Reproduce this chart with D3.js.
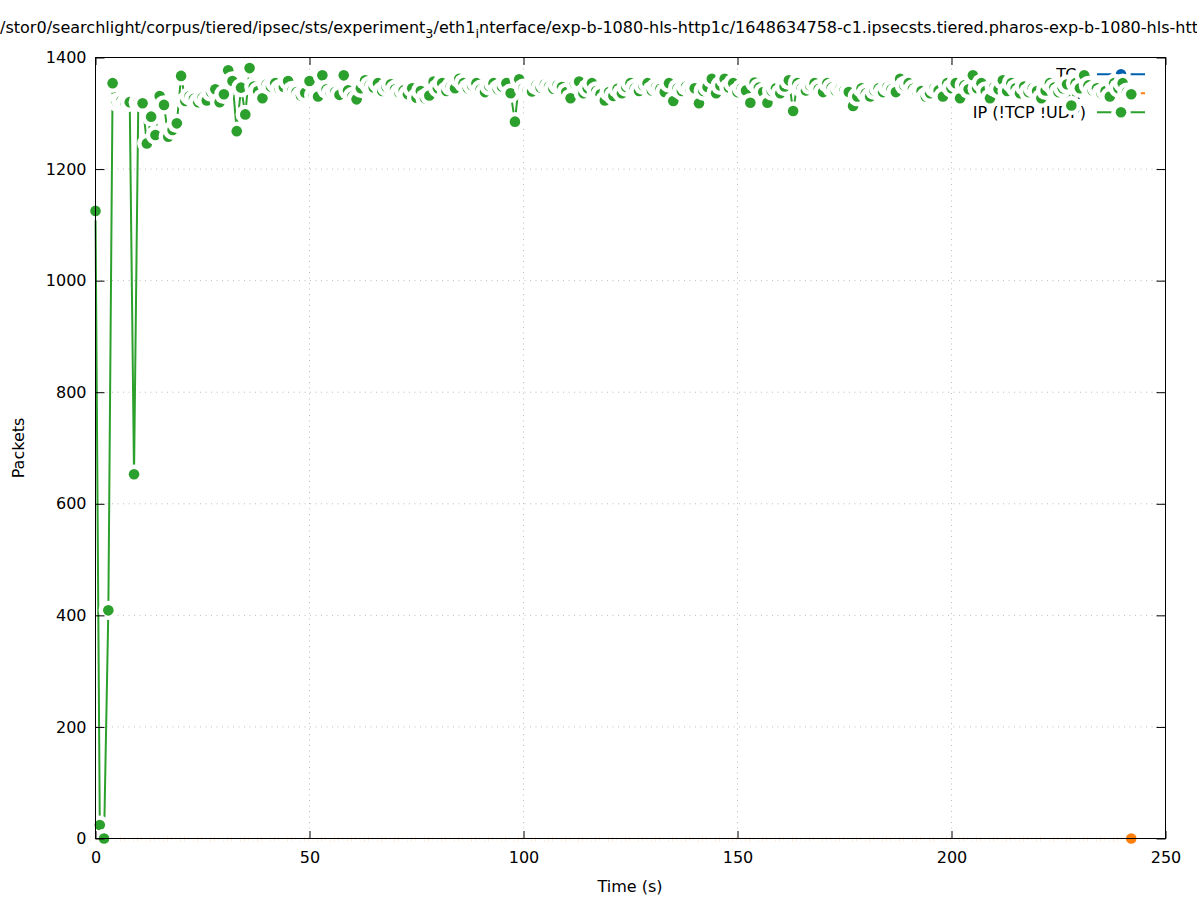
<!DOCTYPE html>
<html lang="en">
<head>
<meta charset="utf-8">
<title>Packets over time</title>
<style>
  body { margin: 0; background: #fff; }
  svg { display: block; font-family: "DejaVu Sans", sans-serif; }
  .tick line { stroke: #000; stroke-width: 1; }
  .tick text { font-size: 16px; fill: #000; font-family: "DejaVu Sans", sans-serif; }
  .grid line { stroke: #bcbcbc; stroke-width: 1; stroke-dasharray: 1,4.5; }
</style>
</head>
<body>
<svg width="1197" height="900"></svg>
<script src="https://cdn.jsdelivr.net/npm/d3@7"></script>
<script>

// ---- data (one bin per second) ----
const seconds = d3.range(0, 243)

const tcp = [
  0,0,0,0,0,0,0,0,0,0, 0,0,0,0,0,0,0,0,0,0, 0,0,0,0,0,0,0,0,0,0,
  0,0,0,0,0,0,0,0,0,0, 0,0,0,0,0,0,0,0,0,0, 0,0,0,0,0,0,0,0,0,0,
  0,0,0,0,0,0,0,0,0,0, 0,0,0,0,0,0,0,0,0,0, 0,0,0,0,0,0,0,0,0,0,
  0,0,0,0,0,0,0,0,0,0, 0,0,0,0,0,0,0,0,0,0, 0,0,0,0,0,0,0,0,0,0,
  0,0,0,0,0,0,0,0,0,0, 0,0,0,0,0,0,0,0,0,0, 0,0,0,0,0,0,0,0,0,0,
  0,0,0,0,0,0,0,0,0,0, 0,0,0,0,0,0,0,0,0,0, 0,0,0,0,0,0,0,0,0,0,
  0,0,0,0,0,0,0,0,0,0, 0,0,0,0,0,0,0,0,0,0, 0,0,0,0,0,0,0,0,0,0,
  0,0,0,0,0,0,0,0,0,0, 0,0,0,0,0,0,0,0,0,0, 0,0,0,0,0,0,0,0,0,0,
  0,0,0
]

const udp = [
  0,0,0,0,0,0,0,0,0,0, 0,0,0,0,0,0,0,0,0,0, 0,0,0,0,0,0,0,0,0,0,
  0,0,0,0,0,0,0,0,0,0, 0,0,0,0,0,0,0,0,0,0, 0,0,0,0,0,0,0,0,0,0,
  0,0,0,0,0,0,0,0,0,0, 0,0,0,0,0,0,0,0,0,0, 0,0,0,0,0,0,0,0,0,0,
  0,0,0,0,0,0,0,0,0,0, 0,0,0,0,0,0,0,0,0,0, 0,0,0,0,0,0,0,0,0,0,
  0,0,0,0,0,0,0,0,0,0, 0,0,0,0,0,0,0,0,0,0, 0,0,0,0,0,0,0,0,0,0,
  0,0,0,0,0,0,0,0,0,0, 0,0,0,0,0,0,0,0,0,0, 0,0,0,0,0,0,0,0,0,0,
  0,0,0,0,0,0,0,0,0,0, 0,0,0,0,0,0,0,0,0,0, 0,0,0,0,0,0,0,0,0,0,
  0,0,0,0,0,0,0,0,0,0, 0,0,0,0,0,0,0,0,0,0, 0,0,0,0,0,0,0,0,0,0,
  0,0,0
]

const ip = [
  1125, 24, 0, 409, 1354, 1320, 1322, 1318, 1320, 653,
  1320, 1318, 1246, 1294, 1261, 1331, 1315, 1258, 1270, 1282,
  1367, 1322, 1331, 1326, 1320, 1328, 1323, 1338, 1343, 1320,
  1334, 1377, 1358, 1268, 1346, 1298, 1381, 1348, 1340, 1327,
  1352, 1348, 1354, 1344, 1347, 1358, 1341, 1338, 1332, 1337,
  1358, 1332, 1330, 1368, 1343, 1336, 1338, 1333, 1368, 1341,
  1330, 1325, 1345, 1359, 1350, 1346, 1354, 1340, 1347, 1352,
  1343, 1337, 1341, 1334, 1345, 1328, 1340, 1327, 1332, 1357,
  1345, 1354, 1340, 1348, 1345, 1362, 1354, 1345, 1350, 1354,
  1343, 1338, 1349, 1354, 1343, 1348, 1354, 1336, 1285, 1361,
  1345, 1341, 1339, 1350, 1346, 1352, 1348, 1344, 1351, 1347,
  1338, 1327, 1354, 1357, 1336, 1345, 1354, 1340, 1334, 1323,
  1338, 1331, 1344, 1336, 1347, 1354, 1345, 1340, 1350, 1354,
  1341, 1347, 1344, 1338, 1354, 1322, 1345, 1340, 1348, 1343,
  1345, 1318, 1340, 1347, 1362, 1336, 1350, 1362, 1346, 1354,
  1338, 1345, 1341, 1319, 1355, 1346, 1338, 1319, 1340, 1345,
  1336, 1348, 1359, 1304, 1354, 1345, 1341, 1350, 1354, 1344,
  1338, 1354, 1346, 1340, 1344, 1341, 1338, 1313, 1330, 1345,
  1336, 1330, 1341, 1345, 1338, 1347, 1343, 1338, 1362, 1350,
  1354, 1344, 1338, 1340, 1330, 1336, 1345, 1341, 1330, 1354,
  1345, 1354, 1327, 1350, 1343, 1368, 1345, 1354, 1340, 1327,
  1347, 1343, 1359, 1340, 1354, 1345, 1336, 1348, 1338, 1345,
  1340, 1327, 1341, 1354, 1346, 1338, 1345, 1352, 1314, 1354,
  1345, 1368, 1350, 1341, 1345, 1336, 1340, 1330, 1354, 1345,
  1354, 1338, 1334
]

const seriesNames = ["TCP", "UDP", "IP (!TCP !UDP)"]
const xTicks = [0, 50, 100, 150, 200, 250]
const yTicks = [0, 200, 400, 600, 800, 1000, 1200, 1400]

// ---- layout ----
const plot = {left: 95.5, right: 1165.5, top: 57.5, bottom: 838.5}
const colors = ["#0060ad", "#ff7f0e", "#2ca02c"]
const dotR = 5.3, haloR = 9.7

const x = d3.scaleLinear().domain([0, 250]).range([plot.left, plot.right])
const y = d3.scaleLinear().domain([0, 1400]).range([plot.bottom, plot.top])

const svg = d3.select("svg")

// grid
const grid = svg.append("g").attr("class", "grid")
grid.selectAll("line.gx")
  .data(xTicks.filter(d => d > 0 && d < 250))
  .enter().append("line")
    .attr("x1", d => x(d)).attr("x2", d => x(d))
    .attr("y1", plot.top).attr("y2", plot.bottom)
grid.selectAll("line.gy")
  .data(yTicks.filter(d => d > 0 && d < 1400))
  .enter().append("line")
    .attr("x1", plot.left).attr("x2", plot.right)
    .attr("y1", d => y(d)).attr("y2", d => y(d))

// series: key sample, line, then points with white halo (gnuplot pi -1 look)
const line = d3.line().x(d => x(d[0])).y(d => y(d[1]))
const allSeries = [tcp, udp, ip]

allSeries.forEach(function(vals, k) {
  const pts = seconds.map((s, i) => [s, vals[i]])
  const g = svg.append("g")
  const col = colors[k]

  // key entry
  const ky = 74.3 + k * 19
  const key = g.append("g")
  key.append("text")
    .attr("x", 1086).attr("y", ky + 5.5)
    .attr("text-anchor", "end")
    .style("font-size", "16px")
    .text(seriesNames[k])
  key.append("line")
    .attr("x1", 1097).attr("x2", 1145)
    .attr("y1", ky).attr("y2", ky)
    .attr("stroke", col).attr("stroke-width", 2)
  key.append("circle").attr("cx", 1121).attr("cy", ky).attr("r", haloR).attr("fill", "#fff")
  key.append("circle").attr("cx", 1121).attr("cy", ky).attr("r", dotR).attr("fill", col)

  g.append("path")
    .datum(pts)
    .attr("fill", "none")
    .attr("stroke", col)
    .attr("stroke-width", 2)
    .attr("d", line)

  const p = g.selectAll("g.pt")
    .data(pts)
    .enter().append("g")
      .attr("class", "pt")
      .attr("transform", d => "translate(" + x(d[0]) + "," + y(d[1]) + ")")
  p.append("circle").attr("r", haloR).attr("fill", "#fff")
  p.append("circle").attr("r", dotR).attr("fill", col)
})

// axes (ticks inward, mirrored)
svg.append("g")
  .attr("transform", "translate(0," + plot.bottom + ")")
  .call(d3.axisBottom(x).tickValues(xTicks).tickSize(-7.5).tickPadding(13).tickFormat(d3.format("d")))
  .call(g => g.select(".domain").remove())
svg.append("g")
  .attr("transform", "translate(0," + plot.top + ")")
  .call(d3.axisTop(x).tickValues(xTicks).tickSize(-7.5).tickFormat(""))
  .call(g => g.select(".domain").remove())
svg.append("g")
  .attr("transform", "translate(" + plot.left + ",0)")
  .call(d3.axisLeft(y).tickValues(yTicks).tickSize(-9).tickPadding(9).tickFormat(d3.format("d")))
  .call(g => g.select(".domain").remove())
svg.append("g")
  .attr("transform", "translate(" + plot.right + ",0)")
  .call(d3.axisRight(y).tickValues(yTicks).tickSize(-9).tickFormat(""))
  .call(g => g.select(".domain").remove())

// border
svg.append("rect")
  .attr("x", plot.left).attr("y", plot.top)
  .attr("width", plot.right - plot.left).attr("height", plot.bottom - plot.top)
  .attr("fill", "none").attr("stroke", "#000").attr("stroke-width", 1)

// axis labels
svg.append("text")
  .attr("x", 630).attr("y", 892)
  .attr("text-anchor", "middle")
  .style("font-size", "16px")
  .text("Time (s)")
svg.append("text")
  .attr("transform", "translate(24,448) rotate(-90)")
  .attr("text-anchor", "middle")
  .style("font-size", "16px")
  .text("Packets")

// title (enhanced-text subscripts)
const title = svg.append("text")
  .attr("x", 0).attr("y", 33)
  .style("font-size", "16.04px")
title.append("tspan").text("/stor0/searchlight/corpus/tiered/ipsec/sts/experiment")
title.append("tspan").attr("dy", 5).style("font-size", "12.8px").text("3")
title.append("tspan").attr("dy", -5).text("/eth1")
title.append("tspan").attr("dy", 5).style("font-size", "12.8px").text("i")
title.append("tspan").attr("dy", -5).text("nterface/exp-b-1080-hls-http1c/1648634758-c1.ipsecsts.tiered.pharos-exp-b-1080-hls-http1c")

</script>
</body>
</html>
